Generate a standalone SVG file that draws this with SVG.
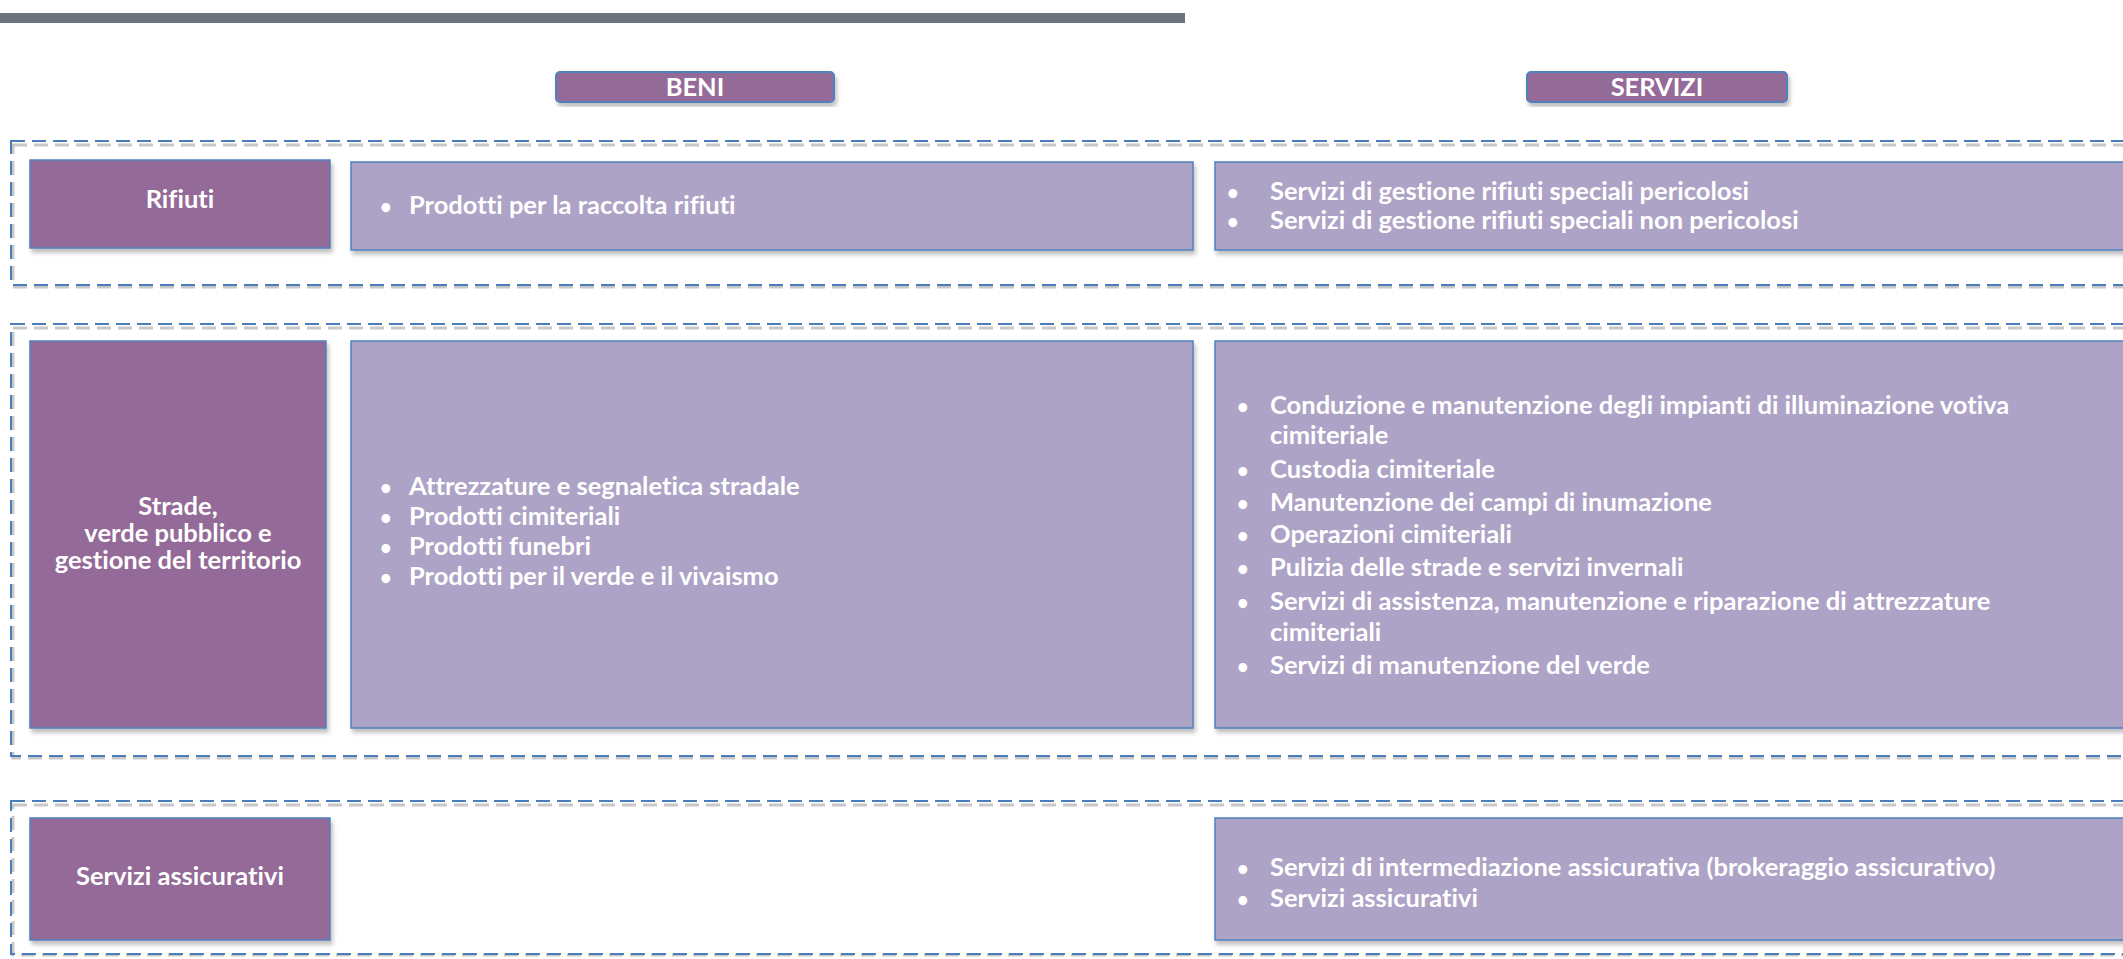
<svg xmlns="http://www.w3.org/2000/svg" width="2123" height="959" viewBox="0 0 2123 959">
<defs>
<filter id="sh" x="-5%" y="-5%" width="110%" height="120%">
<feDropShadow dx="2" dy="4" stdDeviation="2" flood-color="#000" flood-opacity="0.25"/>
</filter>
</defs>
<style>
.grp{fill:none;stroke:#4a7ebb;stroke-width:2;stroke-dasharray:14 7}
.grpsh{fill:none;stroke:#c8c8c8;stroke-width:3;stroke-dasharray:14 7}
.dark{fill:#946a98;stroke:#4f81bd;stroke-width:1.5}
.light{fill:#ada3c6;stroke:#4f81bd;stroke-width:1.5}
.hdr{fill:#946a98;stroke:#4f81bd;stroke-width:2}
text{font-family:Lato,"Open Sans","Liberation Sans",sans-serif;font-weight:bold;fill:#ffffff;font-size:25.5px;font-variant-ligatures:none}
.c{text-anchor:middle}
.b{font-size:20px}
</style>
<rect x="0" y="13" width="1185" height="10" fill="#6b747c"/>
<g id="groups">
<rect class="grpsh" x="13" y="145" width="2120" height="142"/>
<rect class="grp" x="11" y="141" width="2120" height="144"/>
<rect class="grpsh" x="13" y="328" width="2120" height="430"/>
<rect class="grp" x="11" y="324" width="2120" height="432"/>
<rect class="grpsh" x="13" y="805" width="2120" height="150"/>
<rect class="grp" x="11" y="801" width="2120" height="153"/>
</g>
<g id="hdr-beni">
<rect class="hdr" x="556" y="72" width="278" height="30" rx="4" filter="url(#sh)"/>
<text class="c" x="695" y="96">BENI</text>
</g>
<g id="hdr-servizi">
<rect class="hdr" x="1527" y="72" width="260" height="30" rx="4" filter="url(#sh)"/>
<text class="c" x="1657" y="96">SERVIZI</text>
</g>
<g id="rifiuti">
<rect class="dark" x="30" y="160" width="300" height="88" filter="url(#sh)"/>
<text class="c" x="180" y="208">Rifiuti</text>
</g>
<g id="rifiuti-beni">
<rect class="light" x="351" y="162" width="842" height="88" filter="url(#sh)"/>
<text class="b" x="380" y="214">•</text><text x="409" y="214">Prodotti per la raccolta rifiuti</text>
</g>
<g id="rifiuti-servizi">
<rect class="light" x="1215" y="162" width="912" height="88" filter="url(#sh)"/>
<text class="b" x="1227" y="200">•</text><text x="1270" y="200">Servizi di gestione rifiuti speciali pericolosi</text>
<text class="b" x="1227" y="229">•</text><text x="1270" y="229">Servizi di gestione rifiuti speciali non pericolosi</text>
</g>
<g id="strade">
<rect class="dark" x="30" y="341" width="296" height="387" filter="url(#sh)"/>
<text class="c" x="178" y="515">Strade,</text>
<text class="c" x="178" y="542">verde pubblico e</text>
<text class="c" x="178" y="569">gestione del territorio</text>
</g>
<g id="strade-beni">
<rect class="light" x="351" y="341" width="842" height="387" filter="url(#sh)"/>
<text class="b" x="380" y="495">•</text><text x="409" y="495">Attrezzature e segnaletica stradale</text>
<text class="b" x="380" y="525">•</text><text x="409" y="525">Prodotti cimiteriali</text>
<text class="b" x="380" y="555">•</text><text x="409" y="555">Prodotti funebri</text>
<text class="b" x="380" y="585">•</text><text x="409" y="585">Prodotti per il verde e il vivaismo</text>
</g>
<g id="strade-servizi">
<rect class="light" x="1215" y="341" width="912" height="387" filter="url(#sh)"/>
<text class="b" x="1237" y="414">•</text><text x="1270" y="414">Conduzione e manutenzione degli impianti di illuminazione votiva</text>
<text x="1270" y="444">cimiteriale</text>
<text class="b" x="1237" y="478">•</text><text x="1270" y="478">Custodia cimiteriale</text>
<text class="b" x="1237" y="511">•</text><text x="1270" y="511">Manutenzione dei campi di inumazione</text>
<text class="b" x="1237" y="543">•</text><text x="1270" y="543">Operazioni cimiteriali</text>
<text class="b" x="1237" y="576">•</text><text x="1270" y="576">Pulizia delle strade e servizi invernali</text>
<text class="b" x="1237" y="610">•</text><text x="1270" y="610">Servizi di assistenza, manutenzione e riparazione di attrezzature</text>
<text x="1270" y="641">cimiteriali</text>
<text class="b" x="1237" y="674">•</text><text x="1270" y="674">Servizi di manutenzione del verde</text>
</g>
<g id="assicurativi">
<rect class="dark" x="30" y="818" width="300" height="122" filter="url(#sh)"/>
<text class="c" x="180" y="885">Servizi assicurativi</text>
</g>
<g id="assicurativi-servizi">
<rect class="light" x="1215" y="818" width="912" height="122" filter="url(#sh)"/>
<text class="b" x="1237" y="876">•</text><text x="1270" y="876">Servizi di intermediazione assicurativa (brokeraggio assicurativo)</text>
<text class="b" x="1237" y="907">•</text><text x="1270" y="907">Servizi assicurativi</text>
</g>
</svg>
